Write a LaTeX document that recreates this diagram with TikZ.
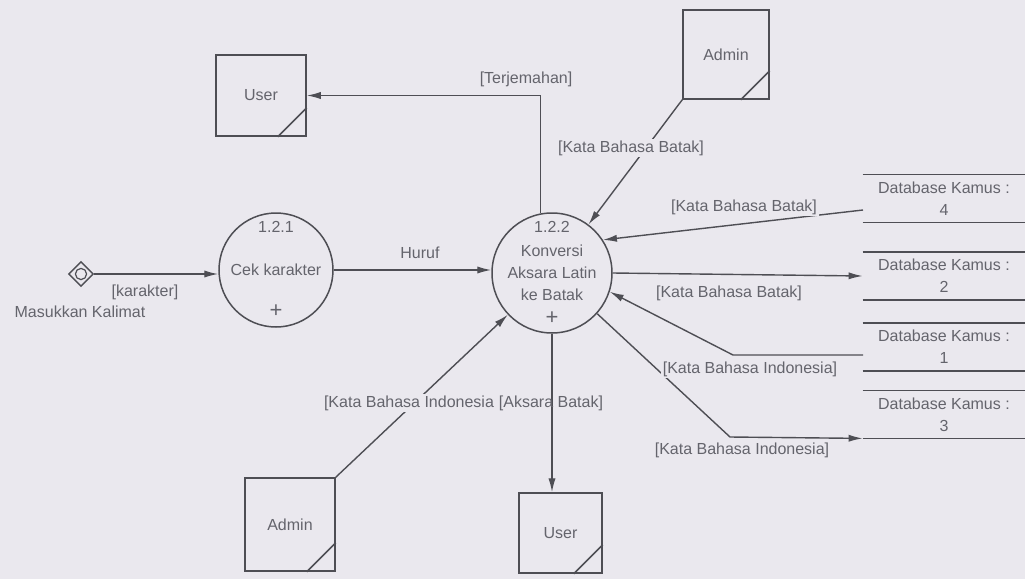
\documentclass[tikz,border=0pt]{standalone}
\usepackage{fontspec}
\setmainfont{Liberation Sans}
\usetikzlibrary{shapes.geometric,arrows.meta}
\definecolor{paper}{RGB}{234,232,238}
\definecolor{ink}{RGB}{78,78,84}
\definecolor{inktext}{RGB}{100,100,108}

\begin{document}
\begin{tikzpicture}[x=0.5pt, y=-0.5pt, font=\fontsize{8}{11}\selectfont]
	\tikzstyle{proc} = [circle, draw=ink, line width=0.75pt, inner sep=0pt, text=inktext, align=center]
	\tikzstyle{ent} = [rectangle, draw=ink, line width=0.75pt, inner sep=0pt, text=inktext]
	\tikzstyle{store} = [rectangle, minimum width=81pt, minimum height=23.5pt, inner sep=0pt, text=inktext, align=center]
	\tikzstyle{lbl} = [inner sep=1pt, text=inktext, fill=paper]
	\tikzstyle{flow} = [draw=ink, line width=0.7pt, -{Latex[length=7pt, width=3.6pt]}]
	\fill[paper] (0,0) rectangle (1025,579);
	\useasboundingbox (0,0) rectangle (1025,579);
	% processes
	\node[proc, minimum size=57pt] (cek) at (276,270) {Cek karakter};
	\node[proc, minimum size=60pt] (konv) at (552,273) {Konversi\\Aksara Latin\\ke Batak};
	\node[lbl] (cekno) at (276,227) {1.2.1};
	\node[lbl] (cekplus) at (276,311) {\fontsize{11}{11}\selectfont +};
	\node[lbl] (konvno) at (552,227) {1.2.2};
	\node[lbl] (konvplus) at (552,318) {\fontsize{11}{11}\selectfont +};
	% external entities
	\node[ent, minimum width=45pt, minimum height=40.5pt] (userA) at (261,95.5) {User};
	\node[ent, minimum width=43pt, minimum height=44.5pt] (adminA) at (726,54.5) {Admin};
	\node[ent, minimum width=45pt, minimum height=46.5pt] (adminB) at (290,524.5) {Admin};
	\node[ent, minimum width=41.5pt, minimum height=40pt] (userB) at (560.5,533) {User};
	\foreach \e in {userA, adminA, adminB, userB}
		\draw[ink, line width=0.75pt] (\e.south east) ++(-29,0) -- ++(29,-29);
	% data stores
	\node[store] (kamus4) at (944,198.5) {Database Kamus :\\4};
	\node[store] (kamus2) at (944,276) {Database Kamus :\\2};
	\node[store] (kamus1) at (944,347) {Database Kamus :\\1};
	\node[store] (kamus3) at (944,414.5) {Database Kamus :\\3};
	\foreach \s in {kamus4, kamus2, kamus1, kamus3}
		\draw[ink, line width=0.75pt] (\s.north west) -- (\s.north east) (\s.south west) -- (\s.south east);
	% input
	\node[diamond, draw=ink, line width=0.7pt, minimum size=12.5pt, inner sep=0pt] (masuk) at (81,274) {};
	\draw[ink, line width=0.6pt] (masuk) circle (2.8pt);
	\node[lbl] (masuklbl) at (80,312) {Masukkan Kalimat};
	% flows
	\coordinate (k4out) at (863,210);
	\coordinate (k1out) at (863,355);
	\coordinate (k1bend) at (733,355);
	\coordinate (k3bend) at (730,437);
	\draw[flow] (masuk) -- (masuk -| cek.west);
	\draw[flow] (cek) -- (cek -| konv.west);
	\draw[flow] (konv.101) |- (userA.east);
	\draw[flow] (adminA.south west) -- (konv);
	\draw[flow] (k4out) -- (konv.33);
	\draw[flow] (konv.east) -- (kamus2.west);
	\draw[flow] (k1out) -- (k1bend) -- (konv.-18);
	\draw[flow] (konv.-42) -- (k3bend) -- (kamus3.south west);
	\draw[flow] (adminB.north east) -- (konv);
	\draw[flow] (konv.south) -- (konv.south |- userB.north);
	% flow labels
	\node[lbl] (karakter) at (145,292) {[karakter]};
	\node[lbl] (huruf) at (420,253) {Huruf};
	\node[lbl] (terjemahan) at (526,79) {[Terjemahan]};
	\node[lbl] (batakA) at (631,148) {[Kata Bahasa Batak]};
	\node[lbl] (batakB) at (744,207) {[Kata Bahasa Batak]};
	\node[lbl] (batakC) at (729,293) {[Kata Bahasa Batak]};
	\node[lbl] (indoA) at (750,369) {[Kata Bahasa Indonesia]};
	\node[lbl] (indoB) at (742,450) {[Kata Bahasa Indonesia]};
	\node[lbl] (indoC) at (409,403) {[Kata Bahasa Indonesia};
	\node[lbl, fill=none] (aksara) at (551,403) {[Aksara Batak]};
\end{tikzpicture}
\end{document}
